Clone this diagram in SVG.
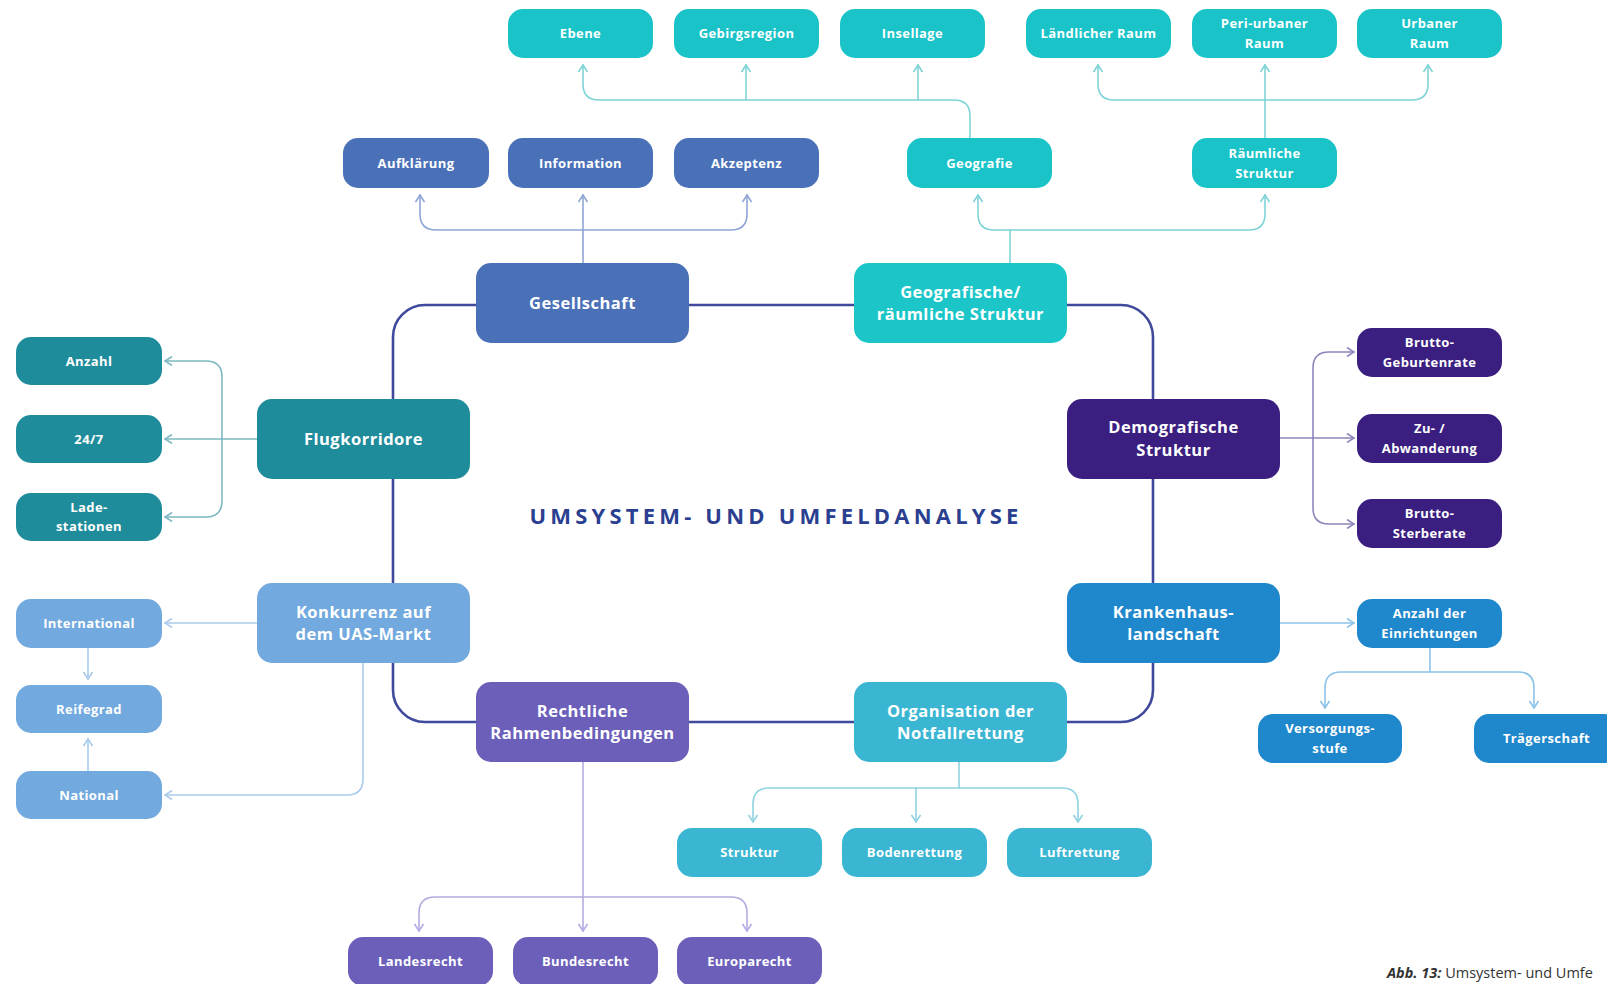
<svg xmlns="http://www.w3.org/2000/svg" width="1607" height="984" viewBox="0 0 1607 984">
<defs>
<style>
.s{font-family:"Open Sans","Liberation Sans",sans-serif;font-weight:700;font-size:13px;letter-spacing:0.4px;fill:#fff;text-anchor:middle}
.b{font-family:"Open Sans","Liberation Sans",sans-serif;font-weight:700;font-size:16.5px;letter-spacing:0.5px;fill:#fff;text-anchor:middle}
.c{fill:none;stroke-width:1.6;stroke-linecap:round;stroke-linejoin:round}
.loop{fill:none;stroke:#3f4a9c;stroke-width:2.6}
.tq{fill:#19c3c8}.bl{fill:#4a71b8}.te{fill:#1f8c9c}.pu{fill:#3b1f80}.lb{fill:#72a9de}.kb{fill:#1f87cb}.vi{fill:#6b5fba}.cy{fill:#3ab6d3}.gt{fill:#1cc6c8}
.ctq{stroke:#7fd4d7}.cbl{stroke:#8fa5d5}.cte{stroke:#7db8c2}.cpu{stroke:#8f86bd}.clb{stroke:#a9cbec}.ckb{stroke:#8cc3e8}.cvi{stroke:#b3ace0}.ccy{stroke:#90d4e2}
</style>
<marker id="mtq" viewBox="0 0 10 10" refX="9" refY="5" markerWidth="10" markerHeight="10" markerUnits="userSpaceOnUse" orient="auto"><path d="M2,0.5 L9,5 L2,9.5" fill="none" stroke="#7fd4d7" stroke-width="1.6"/></marker>
<marker id="mbl" viewBox="0 0 10 10" refX="9" refY="5" markerWidth="10" markerHeight="10" markerUnits="userSpaceOnUse" orient="auto"><path d="M2,0.5 L9,5 L2,9.5" fill="none" stroke="#8fa5d5" stroke-width="1.6"/></marker>
<marker id="mte" viewBox="0 0 10 10" refX="9" refY="5" markerWidth="10" markerHeight="10" markerUnits="userSpaceOnUse" orient="auto"><path d="M2,0.5 L9,5 L2,9.5" fill="none" stroke="#7db8c2" stroke-width="1.6"/></marker>
<marker id="mpu" viewBox="0 0 10 10" refX="9" refY="5" markerWidth="10" markerHeight="10" markerUnits="userSpaceOnUse" orient="auto"><path d="M2,0.5 L9,5 L2,9.5" fill="none" stroke="#8f86bd" stroke-width="1.6"/></marker>
<marker id="mlb" viewBox="0 0 10 10" refX="9" refY="5" markerWidth="10" markerHeight="10" markerUnits="userSpaceOnUse" orient="auto"><path d="M2,0.5 L9,5 L2,9.5" fill="none" stroke="#a9cbec" stroke-width="1.6"/></marker>
<marker id="mkb" viewBox="0 0 10 10" refX="9" refY="5" markerWidth="10" markerHeight="10" markerUnits="userSpaceOnUse" orient="auto"><path d="M2,0.5 L9,5 L2,9.5" fill="none" stroke="#8cc3e8" stroke-width="1.6"/></marker>
<marker id="mvi" viewBox="0 0 10 10" refX="9" refY="5" markerWidth="10" markerHeight="10" markerUnits="userSpaceOnUse" orient="auto"><path d="M2,0.5 L9,5 L2,9.5" fill="none" stroke="#b3ace0" stroke-width="1.6"/></marker>
<marker id="mcy" viewBox="0 0 10 10" refX="9" refY="5" markerWidth="10" markerHeight="10" markerUnits="userSpaceOnUse" orient="auto"><path d="M2,0.5 L9,5 L2,9.5" fill="none" stroke="#90d4e2" stroke-width="1.6"/></marker>
</defs>
<rect width="1607" height="984" fill="#fff"/>

<g id="connectors">
<rect class="loop" x="393" y="305" width="760" height="417" rx="32"/>
<!-- Geografie to top row -->
<path class="c ctq" d="M970,138 L970,116 Q970,100 954,100 L599,100 Q583,100 583,84 L583,65" marker-end="url(#mtq)"/>
<path class="c ctq" d="M746,100 L746,65" marker-end="url(#mtq)"/>
<path class="c ctq" d="M918,100 L918,65" marker-end="url(#mtq)"/>
<!-- Raeumliche to top row -->
<path class="c ctq" d="M1265,138 L1265,65" marker-end="url(#mtq)"/>
<path class="c ctq" d="M1265,100 L1114,100 Q1098,100 1098,84 L1098,65" marker-end="url(#mtq)"/>
<path class="c ctq" d="M1265,100 L1412,100 Q1428,100 1428,84 L1428,65" marker-end="url(#mtq)"/>
<!-- Geografische to second row -->
<path class="c ctq" d="M1010,263 L1010,230 L994,230 Q978,230 978,214 L978,195" marker-end="url(#mtq)"/>
<path class="c ctq" d="M1010,230 L1249,230 Q1265,230 1265,214 L1265,195" marker-end="url(#mtq)"/>
<!-- Gesellschaft -->
<path class="c cbl" d="M583,263 L583,195" marker-end="url(#mbl)"/>
<path class="c cbl" d="M583,230 L436,230 Q420,230 420,214 L420,195" marker-end="url(#mbl)"/>
<path class="c cbl" d="M583,230 L731,230 Q747,230 747,214 L747,195" marker-end="url(#mbl)"/>
<!-- Flugkorridore -->
<path class="c cte" d="M257,439 L165,439" marker-end="url(#mte)"/>
<path class="c cte" d="M222,439 L222,377 Q222,361 206,361 L165,361" marker-end="url(#mte)"/>
<path class="c cte" d="M222,439 L222,501 Q222,517 206,517 L165,517" marker-end="url(#mte)"/>
<!-- Demografische -->
<path class="c cpu" d="M1280,438 L1354,438" marker-end="url(#mpu)"/>
<path class="c cpu" d="M1313,438 L1313,368 Q1313,352 1329,352 L1354,352" marker-end="url(#mpu)"/>
<path class="c cpu" d="M1313,438 L1313,508 Q1313,524 1329,524 L1354,524" marker-end="url(#mpu)"/>
<!-- Konkurrenz -->
<path class="c clb" d="M257,623 L165,623" marker-end="url(#mlb)"/>
<path class="c clb" d="M88,648 L88,679" marker-end="url(#mlb)"/>
<path class="c clb" d="M88,771 L88,739" marker-end="url(#mlb)"/>
<path class="c clb" d="M363,663 L363,779 Q363,795 347,795 L165,795" marker-end="url(#mlb)"/>
<!-- Krankenhaus -->
<path class="c ckb" d="M1280,623 L1354,623" marker-end="url(#mkb)"/>
<path class="c ckb" d="M1430,648 L1430,672 L1341,672 Q1325,672 1325,688 L1325,708" marker-end="url(#mkb)"/>
<path class="c ckb" d="M1430,672 L1518,672 Q1534,672 1534,688 L1534,708" marker-end="url(#mkb)"/>
<!-- Organisation -->
<path class="c ccy" d="M959,762 L959,788 L769,788 Q753,788 753,804 L753,822" marker-end="url(#mcy)"/>
<path class="c ccy" d="M916,788 L916,822" marker-end="url(#mcy)"/>
<path class="c ccy" d="M959,788 L1062,788 Q1078,788 1078,804 L1078,822" marker-end="url(#mcy)"/>
<!-- Rechtliche -->
<path class="c cvi" d="M583,762 L583,931" marker-end="url(#mvi)"/>
<path class="c cvi" d="M583,897 L435,897 Q419,897 419,913 L419,931" marker-end="url(#mvi)"/>
<path class="c cvi" d="M583,897 L731,897 Q747,897 747,913 L747,931" marker-end="url(#mvi)"/>
</g>

<!-- top row -->
<g id="ebene"><rect class="tq" x="508" y="9" width="145" height="49" rx="15"/><text class="s" x="580.5" y="38">Ebene</text></g>
<g id="gebirgsregion"><rect class="tq" x="674" y="9" width="145" height="49" rx="15"/><text class="s" x="746.5" y="38">Gebirgsregion</text></g>
<g id="insellage"><rect class="tq" x="840" y="9" width="145" height="49" rx="15"/><text class="s" x="912.5" y="38">Insellage</text></g>
<g id="laendlicher-raum"><rect class="tq" x="1026" y="9" width="145" height="49" rx="15"/><text class="s" x="1098.5" y="38">Ländlicher Raum</text></g>
<g id="peri-urbaner-raum"><rect class="tq" x="1192" y="9" width="145" height="49" rx="15"/><text class="s" x="1264.5" y="28">Peri-urbaner</text><text class="s" x="1264.5" y="48">Raum</text></g>
<g id="urbaner-raum"><rect class="tq" x="1357" y="9" width="145" height="49" rx="15"/><text class="s" x="1429.5" y="28">Urbaner</text><text class="s" x="1429.5" y="48">Raum</text></g>

<!-- second row -->
<g id="aufklaerung"><rect class="bl" x="343" y="138" width="146" height="50" rx="15"/><text class="s" x="416" y="168">Aufklärung</text></g>
<g id="information"><rect class="bl" x="508" y="138" width="145" height="50" rx="15"/><text class="s" x="580.5" y="168">Information</text></g>
<g id="akzeptenz"><rect class="bl" x="674" y="138" width="145" height="50" rx="15"/><text class="s" x="746.5" y="168">Akzeptenz</text></g>
<g id="geografie"><rect class="tq" x="907" y="138" width="145" height="50" rx="15"/><text class="s" x="979.5" y="168">Geografie</text></g>
<g id="raeumliche-struktur"><rect class="tq" x="1192" y="138" width="145" height="50" rx="15"/><text class="s" x="1264.5" y="158">Räumliche</text><text class="s" x="1264.5" y="178">Struktur</text></g>

<!-- main nodes -->
<g id="gesellschaft"><rect class="bl" x="476" y="263" width="213" height="80" rx="15"/><text class="b" x="582.5" y="309">Gesellschaft</text></g>
<g id="geografische-raeumliche-struktur"><rect class="gt" x="854" y="263" width="213" height="80" rx="15"/><text class="b" x="960.5" y="298">Geografische/</text><text class="b" x="960.5" y="320">räumliche Struktur</text></g>
<g id="flugkorridore"><rect class="te" x="257" y="399" width="213" height="80" rx="15"/><text class="b" x="363.5" y="445">Flugkorridore</text></g>
<g id="demografische-struktur"><rect class="pu" x="1067" y="399" width="213" height="80" rx="15"/><text class="b" x="1173.5" y="433">Demografische</text><text class="b" x="1173.5" y="456">Struktur</text></g>
<g id="konkurrenz"><rect class="lb" x="257" y="583" width="213" height="80" rx="15"/><text class="b" x="363.5" y="618">Konkurrenz auf</text><text class="b" x="363.5" y="640">dem UAS-Markt</text></g>
<g id="krankenhauslandschaft"><rect class="kb" x="1067" y="583" width="213" height="80" rx="15"/><text class="b" x="1173.5" y="618">Krankenhaus-</text><text class="b" x="1173.5" y="640">landschaft</text></g>
<g id="rechtliche-rahmenbedingungen"><rect class="vi" x="476" y="682" width="213" height="80" rx="15"/><text class="b" x="582.5" y="717">Rechtliche</text><text class="b" x="582.5" y="739">Rahmenbedingungen</text></g>
<g id="organisation-notfallrettung"><rect class="cy" x="854" y="682" width="213" height="80" rx="15"/><text class="b" x="960.5" y="717">Organisation der</text><text class="b" x="960.5" y="739">Notfallrettung</text></g>

<!-- left children -->
<g id="anzahl"><rect class="te" x="16" y="337" width="146" height="48" rx="15"/><text class="s" x="89" y="366">Anzahl</text></g>
<g id="rund-um-die-uhr"><rect class="te" x="16" y="415" width="146" height="48" rx="15"/><text class="s" x="89" y="444">24/7</text></g>
<g id="ladestationen"><rect class="te" x="16" y="493" width="146" height="48" rx="15"/><text class="s" x="89" y="512">Lade-</text><text class="s" x="89" y="531">stationen</text></g>
<g id="international"><rect class="lb" x="16" y="599" width="146" height="49" rx="15"/><text class="s" x="89" y="628">International</text></g>
<g id="reifegrad"><rect class="lb" x="16" y="685" width="146" height="48" rx="15"/><text class="s" x="89" y="714">Reifegrad</text></g>
<g id="national"><rect class="lb" x="16" y="771" width="146" height="48" rx="15"/><text class="s" x="89" y="800">National</text></g>

<!-- right children -->
<g id="brutto-geburtenrate"><rect class="pu" x="1357" y="328" width="145" height="49" rx="15"/><text class="s" x="1429.5" y="347">Brutto-</text><text class="s" x="1429.5" y="367">Geburtenrate</text></g>
<g id="zu-abwanderung"><rect class="pu" x="1357" y="414" width="145" height="49" rx="15"/><text class="s" x="1429.5" y="433">Zu- /</text><text class="s" x="1429.5" y="453">Abwanderung</text></g>
<g id="brutto-sterberate"><rect class="pu" x="1357" y="499" width="145" height="49" rx="15"/><text class="s" x="1429.5" y="518">Brutto-</text><text class="s" x="1429.5" y="538">Sterberate</text></g>
<g id="anzahl-einrichtungen"><rect class="kb" x="1357" y="599" width="145" height="49" rx="15"/><text class="s" x="1429.5" y="618">Anzahl der</text><text class="s" x="1429.5" y="638">Einrichtungen</text></g>
<g id="versorgungsstufe"><rect class="kb" x="1258" y="714" width="144" height="49" rx="15"/><text class="s" x="1330" y="733">Versorgungs-</text><text class="s" x="1330" y="753">stufe</text></g>
<g id="traegerschaft"><rect class="kb" x="1474" y="714" width="145" height="49" rx="15"/><text class="s" x="1546.5" y="743">Trägerschaft</text></g>

<!-- bottom children -->
<g id="struktur"><rect class="cy" x="677" y="828" width="145" height="49" rx="15"/><text class="s" x="749.5" y="857">Struktur</text></g>
<g id="bodenrettung"><rect class="cy" x="842" y="828" width="145" height="49" rx="15"/><text class="s" x="914.5" y="857">Bodenrettung</text></g>
<g id="luftrettung"><rect class="cy" x="1007" y="828" width="145" height="49" rx="15"/><text class="s" x="1079.5" y="857">Luftrettung</text></g>
<g id="landesrecht"><rect class="vi" x="348" y="937" width="145" height="49" rx="15"/><text class="s" x="420.5" y="966">Landesrecht</text></g>
<g id="bundesrecht"><rect class="vi" x="513" y="937" width="145" height="49" rx="15"/><text class="s" x="585.5" y="966">Bundesrecht</text></g>
<g id="europarecht"><rect class="vi" x="677" y="937" width="145" height="49" rx="15"/><text class="s" x="749.5" y="966">Europarecht</text></g>

<g id="title"><text x="776" y="524" font-family="Open Sans, Liberation Sans, sans-serif" font-weight="700" font-size="22" letter-spacing="4.2" fill="#2b3f90" text-anchor="middle">UMSYSTEM- UND UMFELDANALYSE</text></g>
<g id="caption"><text x="1387" y="978" font-family="Open Sans, Liberation Sans, sans-serif" font-size="14.5" fill="#333"><tspan font-weight="700" font-style="italic">Abb. 13:</tspan> Umsystem- und Umfe</text></g>
</svg>
